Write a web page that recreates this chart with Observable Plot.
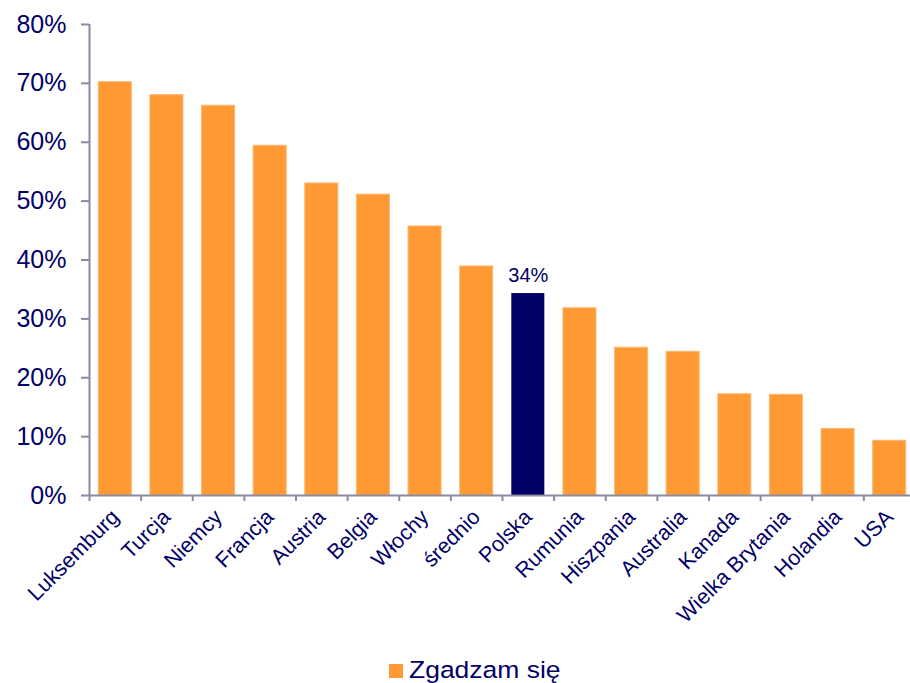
<!DOCTYPE html>
<html><head><meta charset="utf-8">
<script src="https://cdn.jsdelivr.net/npm/d3@7"></script>
<script src="https://cdn.jsdelivr.net/npm/@observablehq/plot@0.6"></script>
<style>
body{margin:0;background:#fff;font-family:"Liberation Sans",Arial,sans-serif;}
#chart svg{display:block;}
#legend{margin-top:6px;padding-left:389px;font-size:24.5px;line-height:27px;color:#000066;height:27px;white-space:nowrap;}
#legend .sw{display:inline-block;width:14px;height:14px;background:#FF9933;margin-right:6px;vertical-align:baseline;}
#legend .lbl{display:inline-block;transform:scaleX(1.08);transform-origin:left center;}
</style>
</head><body>
<div id="chart"></div>
<div id="legend"><span class="sw"></span><span class="lbl" id="legendLabel"></span></div>
<script>
const countries = ["Luksemburg","Turcja","Niemcy","Francja","Austria","Belgia","Włochy","średnio","Polska","Rumunia","Hiszpania","Australia","Kanada","Wielka Brytania","Holandia","USA"];
const values = [70.2, 68.0, 66.2, 59.4, 53.0, 51.1, 45.7, 38.9, 34.3, 31.8, 25.1, 24.4, 17.2, 17.1, 11.3, 9.3];
const highlight = "Polska";
const highlightLabel = "34%";
const yTicks = [0, 10, 20, 30, 40, 50, 60, 70, 80];
const seriesName = "Zgadzam się";

document.getElementById("legendLabel").textContent = seriesName;
const data = countries.map((c, i) => ({country: c, value: values[i]}));
const x0 = 89, x1 = 915;
const step = (x1 - x0) / countries.length;
const navy = "#000066", orange = "#FF9933", axisGray = "#8a8aa0";

const chart = Plot.plot({
  width: 910, height: 650,
  marginTop: 24, marginLeft: 89, marginRight: 0, marginBottom: 155,
  style: {fontFamily: "'Liberation Sans', Arial, sans-serif", color: navy, background: "white", overflow: "visible"},
  x: {domain: countries, range: [x0, x1], paddingInner: 0.36, paddingOuter: 0.18, round: false, label: null},
  y: {domain: [0, 80], range: [495, 24], label: null},
  marks: [
    Plot.barY(data.filter(d => d.country !== highlight), {x: "country", y: "value", fill: orange, stroke: "#FFB870", strokeWidth: 1}),
    Plot.barY(data.filter(d => d.country === highlight), {x: "country", y: "value", fill: navy}),
    Plot.text(data.filter(d => d.country === highlight), {x: "country", y: "value", text: () => highlightLabel, dy: -18, fontSize: 20, fill: navy}),
    Plot.ruleY([0], {stroke: axisGray, strokeWidth: 2}),
    Plot.ruleX([countries[0]], {dx: -step / 2, y1: 0, y2: 80, stroke: axisGray, strokeWidth: 2}),
    Plot.axisY({ticks: yTicks, tickFormat: d => d + "%", tickSize: 8, tickPadding: 15, fontSize: 25, stroke: axisGray, strokeWidth: 2, fill: navy, label: null}),
    Plot.axisX({tickSize: 6, tickFormat: () => "", dx: -step / 2, stroke: axisGray, strokeWidth: 2, label: null}),
    Plot.axisX({tickSize: 0, tickRotate: -45, tickPadding: 18, fontSize: 21.5, fill: navy, label: null})
  ]
});
document.getElementById("chart").appendChild(chart);
</script>
</body></html>
